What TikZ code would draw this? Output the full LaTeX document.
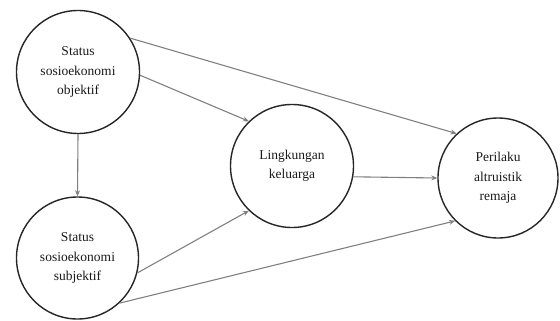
\documentclass[tikz,border=0pt]{standalone}
\usepackage{fontspec}
\setmainfont{Liberation Serif}
\usetikzlibrary{arrows.meta}
\begin{document}
\begin{tikzpicture}[x=1pt,y=-1pt,
  var/.style={circle,draw=black!85,line width=1.4pt,inner sep=0pt,align=center,
    font=\fontsize{13.5}{19.5}\selectfont,text=black!90},
  link/.style={draw=black!50,line width=1.1pt,-{Stealth[length=6pt,width=5pt]}}]
\useasboundingbox (0,0) rectangle (560,321);
\node[var,minimum size=123pt] (obj) at (78,72) {Status\\sosioekonomi\\objektif};
\node[var,minimum size=122pt] (sub) at (77.5,258) {Status\\sosioekonomi\\subjektif};
\node[var,minimum size=123pt] (ling) at (292,166) {Lingkungan\\keluarga};
\node[var,minimum size=120pt] (per) at (498,178) {Perilaku\\altruistik\\remaja};
\draw[link] (obj.south) -- (sub.north);
\draw[link] (obj.33) -- (per.133);
\draw[link] (obj.-3) -- (ling.134);
\draw[link] (ling.-10) -- (per.180);
\draw[link] (sub.-14) -- (ling.226);
\draw[link] (sub.-47) -- (per.225);
\end{tikzpicture}
\end{document}
